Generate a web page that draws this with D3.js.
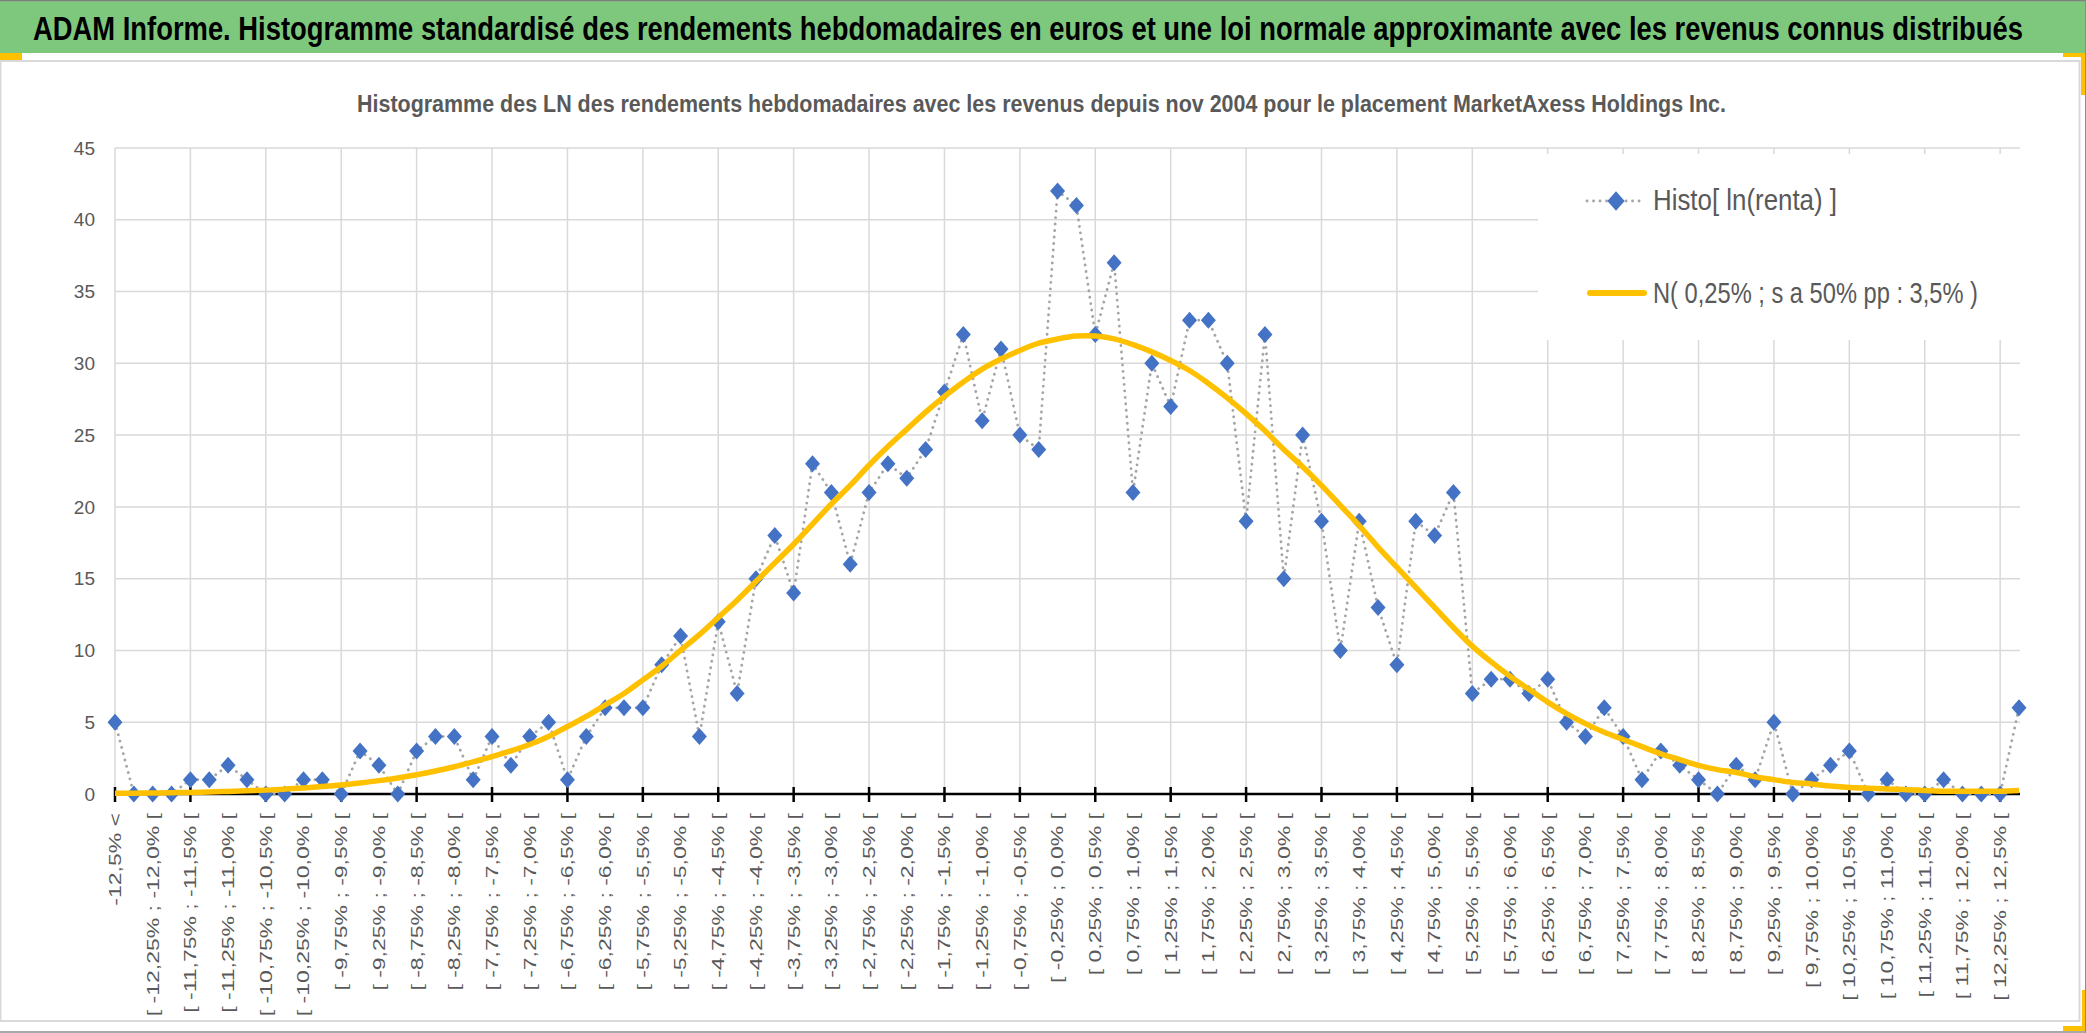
<!DOCTYPE html>
<html>
<head>
<meta charset="utf-8">
<script src="https://cdn.jsdelivr.net/npm/d3@7"></script>
<style>
  body { margin: 0; background: #ffffff; }
  svg { display: block; }
  text { font-family: "Liberation Sans", Arial, sans-serif; }
</style>
</head>
<body>
<script>
// textes
const titre = 'ADAM Informe. Histogramme standardisé des rendements hebdomadaires en euros et une loi normale approximante avec les revenus connus distribués'
const sousTitre = 'Histogramme des LN des rendements hebdomadaires avec les revenus depuis nov 2004 pour le placement MarketAxess Holdings Inc.'
const legendes = ['Histo[ ln(renta) ]', 'N( 0,25% ; s a 50% pp : 3,5% )']

// classes de l'histogramme (pas de 0,25%)
const classes = [
  '-12,5% <',
  '[ -12,5% ; -12,25% [', '[ -12,25% ; -12,0% [', '[ -12,0% ; -11,75% [', '[ -11,75% ; -11,5% [',
  '[ -11,5% ; -11,25% [', '[ -11,25% ; -11,0% [', '[ -11,0% ; -10,75% [', '[ -10,75% ; -10,5% [',
  '[ -10,5% ; -10,25% [', '[ -10,25% ; -10,0% [', '[ -10,0% ; -9,75% [', '[ -9,75% ; -9,5% [',
  '[ -9,5% ; -9,25% [', '[ -9,25% ; -9,0% [', '[ -9,0% ; -8,75% [', '[ -8,75% ; -8,5% [',
  '[ -8,5% ; -8,25% [', '[ -8,25% ; -8,0% [', '[ -8,0% ; -7,75% [', '[ -7,75% ; -7,5% [',
  '[ -7,5% ; -7,25% [', '[ -7,25% ; -7,0% [', '[ -7,0% ; -6,75% [', '[ -6,75% ; -6,5% [',
  '[ -6,5% ; -6,25% [', '[ -6,25% ; -6,0% [', '[ -6,0% ; -5,75% [', '[ -5,75% ; -5,5% [',
  '[ -5,5% ; -5,25% [', '[ -5,25% ; -5,0% [', '[ -5,0% ; -4,75% [', '[ -4,75% ; -4,5% [',
  '[ -4,5% ; -4,25% [', '[ -4,25% ; -4,0% [', '[ -4,0% ; -3,75% [', '[ -3,75% ; -3,5% [',
  '[ -3,5% ; -3,25% [', '[ -3,25% ; -3,0% [', '[ -3,0% ; -2,75% [', '[ -2,75% ; -2,5% [',
  '[ -2,5% ; -2,25% [', '[ -2,25% ; -2,0% [', '[ -2,0% ; -1,75% [', '[ -1,75% ; -1,5% [',
  '[ -1,5% ; -1,25% [', '[ -1,25% ; -1,0% [', '[ -1,0% ; -0,75% [', '[ -0,75% ; -0,5% [',
  '[ -0,5% ; -0,25% [', '[ -0,25% ; 0,0% [', '[ 0,0% ; 0,25% [', '[ 0,25% ; 0,5% [',
  '[ 0,5% ; 0,75% [', '[ 0,75% ; 1,0% [', '[ 1,0% ; 1,25% [', '[ 1,25% ; 1,5% [',
  '[ 1,5% ; 1,75% [', '[ 1,75% ; 2,0% [', '[ 2,0% ; 2,25% [', '[ 2,25% ; 2,5% [',
  '[ 2,5% ; 2,75% [', '[ 2,75% ; 3,0% [', '[ 3,0% ; 3,25% [', '[ 3,25% ; 3,5% [',
  '[ 3,5% ; 3,75% [', '[ 3,75% ; 4,0% [', '[ 4,0% ; 4,25% [', '[ 4,25% ; 4,5% [',
  '[ 4,5% ; 4,75% [', '[ 4,75% ; 5,0% [', '[ 5,0% ; 5,25% [', '[ 5,25% ; 5,5% [',
  '[ 5,5% ; 5,75% [', '[ 5,75% ; 6,0% [', '[ 6,0% ; 6,25% [', '[ 6,25% ; 6,5% [',
  '[ 6,5% ; 6,75% [', '[ 6,75% ; 7,0% [', '[ 7,0% ; 7,25% [', '[ 7,25% ; 7,5% [',
  '[ 7,5% ; 7,75% [', '[ 7,75% ; 8,0% [', '[ 8,0% ; 8,25% [', '[ 8,25% ; 8,5% [',
  '[ 8,5% ; 8,75% [', '[ 8,75% ; 9,0% [', '[ 9,0% ; 9,25% [', '[ 9,25% ; 9,5% [',
  '[ 9,5% ; 9,75% [', '[ 9,75% ; 10,0% [', '[ 10,0% ; 10,25% [', '[ 10,25% ; 10,5% [',
  '[ 10,5% ; 10,75% [', '[ 10,75% ; 11,0% [', '[ 11,0% ; 11,25% [', '[ 11,25% ; 11,5% [',
  '[ 11,5% ; 11,75% [', '[ 11,75% ; 12,0% [', '[ 12,0% ; 12,25% [', '[ 12,25% ; 12,5% [',
  '> 12,5%',
]

// effectifs par classe
const histo = [
  5, 0, 0, 0, 1, 1, 2, 1, 0, 0,
  1, 1, 0, 3, 2, 0, 3, 4, 4, 1,
  4, 2, 4, 5, 1, 4, 6, 6, 6, 9,
  11, 4, 12, 7, 15, 18, 14, 23, 21, 16,
  21, 23, 22, 24, 28, 32, 26, 31, 25, 24,
  42, 41, 32, 37, 21, 30, 27, 33, 33, 30,
  19, 32, 15, 25, 19, 10, 19, 13, 9, 19,
  18, 21, 7, 8, 8, 7, 8, 5, 4, 6,
  4, 1, 3, 2, 1, 0, 2, 1, 5, 0,
  1, 2, 3, 0, 1, 0, 0, 1, 0, 0,
  0, 6,
]

// courbe normale
const normale = [
  0.05, 0.06, 0.07, 0.09, 0.11, 0.14, 0.18, 0.22, 0.27, 0.34,
  0.42, 0.52, 0.63, 0.77, 0.93, 1.12, 1.34, 1.6, 1.9, 2.24,
  2.6, 3.0, 3.45, 4.0, 4.7, 5.4, 6.2, 7.0, 7.95, 8.9,
  10.0, 11.1, 12.3, 13.5, 14.8, 16.1, 17.4, 18.8, 20.2, 21.5,
  22.9, 24.2, 25.4, 26.6, 27.7, 28.7, 29.6, 30.3, 30.9, 31.4,
  31.7, 31.9, 31.9, 31.7, 31.3, 30.8, 30.2, 29.5, 28.6, 27.6,
  26.5, 25.3, 24.0, 22.8, 21.5, 20.1, 18.7, 17.2, 15.8, 14.4,
  13.0, 11.6, 10.3, 9.2, 8.2, 7.3, 6.4, 5.6, 4.9, 4.3,
  3.8, 3.3, 2.8, 2.4, 2.0, 1.7, 1.5, 1.2, 1.0, 0.8,
  0.7, 0.55, 0.45, 0.4, 0.35, 0.3, 0.25, 0.2, 0.2, 0.2,
  0.2, 0.25,
]

const yTicks = [0, 5, 10, 15, 20, 25, 30, 35, 40, 45]

const W = 2086
const H = 1033
const gris = '#595959'

const svg = d3.select('body').append('svg')
  .attr('width', W)
  .attr('height', H)

// bandeau du titre
svg.append('rect')
  .attr('x', 0).attr('y', 0).attr('width', W).attr('height', 53)
  .attr('fill', '#7ec87e')
svg.append('line')
  .attr('x1', 0).attr('x2', W).attr('y1', 0.5).attr('y2', 0.5)
  .attr('stroke', '#7f7f7f').attr('stroke-width', 1.5)
// police plus petite puis étirée en hauteur pour rester dans la largeur
svg.append('text')
  .attr('transform', 'translate(33,40) scale(1,1.2)')
  .attr('font-size', 27).attr('font-weight', 'bold')
  .attr('fill', '#000000')
  .attr('textLength', 1990).attr('lengthAdjust', 'spacingAndGlyphs')
  .text(titre)

// zone du graphique
svg.append('rect')
  .attr('x', 0.5).attr('y', 61).attr('width', 2079).attr('height', 960)
  .attr('fill', '#ffffff').attr('stroke', '#d9d9d9').attr('stroke-width', 2)

// poignées orange
const poignees = [
  [0, 53, 22, 7], [2063, 53, 23, 4], [2081, 53, 5, 42],
  [2063, 1026, 23, 5], [2082, 990, 4, 41],
]
svg.selectAll('.poignee').data(poignees).enter().append('rect')
  .attr('class', 'poignee')
  .attr('x', d => d[0]).attr('y', d => d[1])
  .attr('width', d => d[2]).attr('height', d => d[3])
  .attr('fill', '#ffc000')

svg.append('line')
  .attr('x1', 0).attr('x2', W).attr('y1', 1032).attr('y2', 1032)
  .attr('stroke', '#8c8c8c').attr('stroke-width', 1.5)
svg.append('line')
  .attr('x1', 2085.5).attr('x2', 2085.5).attr('y1', 0).attr('y2', H)
  .attr('stroke', '#8c8c8c').attr('stroke-width', 1)

svg.append('text')
  .attr('x', 357).attr('y', 112)
  .attr('font-size', 23).attr('font-weight', 'bold')
  .attr('fill', gris)
  .attr('textLength', 1369).attr('lengthAdjust', 'spacingAndGlyphs')
  .text(sousTitre)

// échelles
const x = d3.scalePoint()
  .domain(classes)
  .range([115, 2019])

const y = d3.scaleLinear()
  .domain([0, 45])
  .range([794, 148])

const plot = svg.append('g')

// quadrillage horizontal
plot.selectAll('.hgrid').data(yTicks).enter().append('line')
  .attr('class', 'hgrid')
  .attr('x1', 115).attr('x2', 2020)
  .attr('y1', d => y(d)).attr('y2', d => y(d))
  .attr('stroke', '#d9d9d9').attr('stroke-width', 1.5)

// quadrillage vertical, une ligne toutes les 4 classes
const gridCats = classes.filter((c, i) => i % 4 === 0)
plot.selectAll('.vgrid').data(gridCats).enter().append('line')
  .attr('class', 'vgrid')
  .attr('x1', d => x(d)).attr('x2', d => x(d))
  .attr('y1', y(45)).attr('y2', y(0))
  .attr('stroke', '#d9d9d9').attr('stroke-width', 1.5)

// axe des ordonnées
plot.selectAll('.ylab').data(yTicks).enter().append('text')
  .attr('class', 'ylab')
  .attr('x', 95).attr('y', d => y(d))
  .attr('dy', '0.35em')
  .attr('text-anchor', 'end')
  .attr('font-size', 19)
  .attr('fill', gris)
  .text(d => d)

// axe des abscisses
plot.append('line')
  .attr('x1', 115).attr('x2', 2020)
  .attr('y1', y(0)).attr('y2', y(0))
  .attr('stroke', '#000000').attr('stroke-width', 2.5)
plot.selectAll('.tick').data(gridCats).enter().append('line')
  .attr('class', 'tick')
  .attr('x1', d => x(d)).attr('x2', d => x(d))
  .attr('y1', y(0) - 7).attr('y2', y(0) + 8)
  .attr('stroke', '#000000').attr('stroke-width', 2.5)

const labelCats = classes.filter((c, i) => i % 2 === 0)
plot.selectAll('.xlab').data(labelCats).enter().append('text')
  .attr('class', 'xlab')
  .attr('transform', d => `translate(${x(d)},813) rotate(-90) scale(1,0.73)`)
  .attr('dy', '0.35em')
  .attr('text-anchor', 'end')
  .attr('font-size', 23)
  .attr('fill', gris)
  .text(d => d)

// série histogramme : ligne pointillée + losanges
const pts = classes.map((c, i) => ({ c, v: histo[i] }))
plot.append('path')
  .datum(pts)
  .attr('d', d3.line().x(d => x(d.c)).y(d => y(d.v)))
  .attr('fill', 'none')
  .attr('stroke', '#a5a5a5')
  .attr('stroke-width', 2.8)
  .attr('stroke-linecap', 'round')
  .attr('stroke-dasharray', '0.1 6.4')

const losange = 'M0,-8.5L7.5,0L0,8.5L-7.5,0Z'
plot.selectAll('.pt').data(pts).enter().append('path')
  .attr('class', 'pt')
  .attr('transform', d => `translate(${x(d.c)},${y(d.v)})`)
  .attr('d', losange)
  .attr('fill', '#4472c4')

// courbe normale lissée
const courbe = classes.map((c, i) => ({ c, v: normale[i] }))
plot.append('path')
  .datum(courbe)
  .attr('d', d3.line().curve(d3.curveCatmullRom).x(d => x(d.c)).y(d => y(d.v)))
  .attr('fill', 'none')
  .attr('stroke', '#ffc000')
  .attr('stroke-width', 5.5)
  .attr('stroke-linejoin', 'round')

// légende
const leg = svg.append('g')
leg.append('rect')
  .attr('x', 1538).attr('y', 154).attr('width', 490).attr('height', 186)
  .attr('fill', '#ffffff')

leg.append('line')
  .attr('x1', 1587).attr('x2', 1645).attr('y1', 201).attr('y2', 201)
  .attr('stroke', '#a5a5a5').attr('stroke-width', 2.8)
  .attr('stroke-linecap', 'round').attr('stroke-dasharray', '0.1 6.4')
leg.append('path')
  .attr('transform', 'translate(1616,201) scale(1.15)')
  .attr('d', losange)
  .attr('fill', '#4472c4')
leg.append('line')
  .attr('x1', 1590).attr('x2', 1644).attr('y1', 293).attr('y2', 293)
  .attr('stroke', '#ffc000').attr('stroke-width', 6)
  .attr('stroke-linecap', 'round')

leg.selectAll('.legtxt').data(legendes).enter().append('text')
  .attr('class', 'legtxt')
  .attr('x', 1653)
  .attr('y', (d, i) => (i === 0 ? 210 : 303))
  .attr('font-size', 30)
  .attr('fill', gris)
  .attr('textLength', (d, i) => (i === 0 ? 184 : 325))
  .attr('lengthAdjust', 'spacingAndGlyphs')
  .text(d => d)
</script>
</body>
</html>
